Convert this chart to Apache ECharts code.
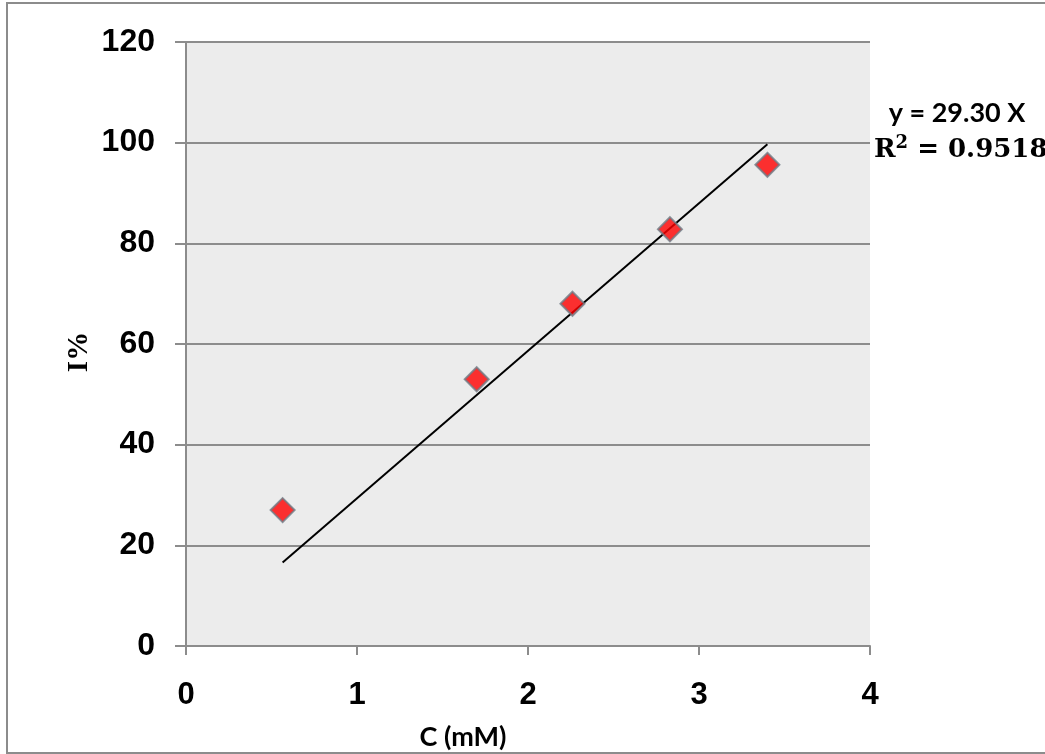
<!DOCTYPE html>
<html>
<head>
<meta charset="utf-8">
<script src="https://cdn.jsdelivr.net/npm/echarts@6/dist/echarts.min.js"></script>
<style>html,body{margin:0;padding:0;background:#fff;}#c{width:1045px;height:754px;}</style>
</head>
<body>
<div id="c"></div>
<script>
// Data
const concentration = [0.565, 1.70, 2.26, 2.83, 3.40];   // C (mM)
const inhibition = [27.0, 53.0, 68.0, 82.8, 95.6];       // I%
const trendX = [0.565, 3.40];
const trendY = [16.6, 99.7];                              // y = 29.30 X
const xTicks = [0, 1, 2, 3, 4];
const yTicks = [0, 20, 40, 60, 80, 100, 120];
const equationText = 'y = 29.30 X';
const r2Value = '0.9518';

const points = concentration.map((c, i) => [c, inhibition[i]]);
const trend = trendX.map((x, i) => [x, trendY[i]]);

const chart = echarts.init(document.getElementById('c'));
const grey = '#8c8c8c';
chart.setOption({
  animation: false,
  backgroundColor: '#ffffff',
  grid: { left: 186, top: 42, right: 175, bottom: 108, outerBoundsMode: 'none', containLabel: false,
          show: true, backgroundColor: '#ececec', borderWidth: 0 },
  xAxis: {
    type: 'value', min: xTicks[0], max: xTicks[xTicks.length - 1], interval: 1,
    axisLine: { show: true, onZero: false, lineStyle: { color: grey, width: 2 } },
    axisTick: { show: true, length: 9, lineStyle: { color: grey, width: 2 } },
    axisLabel: { margin: 34, fontFamily: 'Liberation Sans', fontWeight: 'bold', fontSize: 31, color: '#000' },
    splitLine: { show: false }
  },
  yAxis: {
    type: 'value', min: yTicks[0], max: yTicks[yTicks.length - 1], interval: 20,
    axisLine: { show: true, onZero: false, lineStyle: { color: grey, width: 2 } },
    axisTick: { show: true, length: 11, lineStyle: { color: grey, width: 2 } },
    axisLabel: { margin: 31, fontFamily: 'Liberation Sans', fontWeight: 'bold', fontSize: 32, color: '#000' },
    splitLine: { show: true, lineStyle: { color: grey, width: 2 } }
  },
  series: [
    {
      type: 'line', data: trend, symbol: 'none', silent: true, z: 2,
      lineStyle: { color: '#000', width: 2 }
    },
    {
      type: 'scatter', data: points, symbol: 'diamond', symbolSize: 24, z: 3,
      itemStyle: { color: '#ff0000', borderColor: '#6f7a85', borderWidth: 2 }
    }
  ],
  graphic: [
    { type: 'rect', shape: { x: 7, y: 3, width: 1100, height: 750 }, style: { fill: 'none', stroke: '#8c8c8c', lineWidth: 2 }, silent: true },
    { type: 'text', x: 80, y: 352, rotation: Math.PI / 2, style: { text: 'I%', font: 'bold 29px "Liberation Serif"', fill: '#000', textAlign: 'center', textVerticalAlign: 'middle' } },
    { type: 'text', x: 463, y: 737, style: { text: 'C (mM)', font: 'bold 27px Lato', fill: '#000', textAlign: 'center', textVerticalAlign: 'middle' } },
    { type: 'text', x: 957, y: 113, style: { text: equationText, font: 'bold 27px Lato', fill: '#000', textAlign: 'center', textVerticalAlign: 'middle' } },
    { type: 'text', x: 874, y: 150, style: {
        text: '{a|R}{s|2}{a| = ' + r2Value + '}',
        textAlign: 'left', textVerticalAlign: 'middle',
        rich: {
          a: { fontFamily: 'DejaVu Serif', fontWeight: 'bold', fontSize: 26, fill: '#000', lineHeight: 32, verticalAlign: 'middle' },
          s: { fontFamily: 'DejaVu Serif', fontWeight: 'bold', fontSize: 18, fill: '#000', lineHeight: 32, verticalAlign: 'top', padding: [0, 0, 10, 0] }
        }
      } }
  ]
});
</script>
</body>
</html>
